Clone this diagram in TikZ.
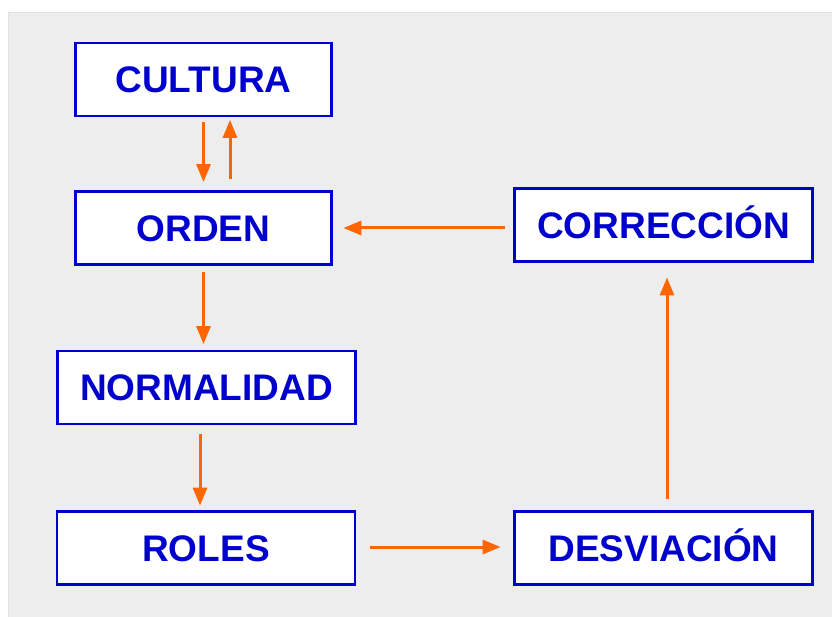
\documentclass[tikz,border=0pt]{standalone}
\usepackage{fontspec}
\setmainfont{Liberation Sans}
\usetikzlibrary{arrows.meta}
\definecolor{boxblue}{HTML}{0000CC}
\definecolor{arrorange}{HTML}{FF6600}
\definecolor{bggray}{HTML}{EDEDED}
\definecolor{bgedge}{HTML}{E2E2E2}
\tikzset{
  box/.style={draw=boxblue, line width=2.8pt, fill=white, inner sep=0pt,
    text height=26.5pt, text depth=0pt,
    text=boxblue, font=\fontsize{37}{42}\selectfont\bfseries},
  narrowbox/.style={box, minimum width=256pt, minimum height=73pt},
  widebox/.style={box, minimum width=298pt, minimum height=73pt},
  arr/.style={draw=arrorange, line width=3pt,
    -{Triangle[width=14pt,length=18pt]}}
}
\begin{document}
\begin{tikzpicture}[x=1pt,y=-1pt]
\useasboundingbox (0,0) rectangle (832,617);
\fill[bggray] (8,12) rectangle (832,617);
\draw[bgedge, line width=1pt] (8.5,617) -- (8.5,12.5) -- (832,12.5);
\node[narrowbox] (cul) at (203.5,79.5) {CULTURA};
\node[narrowbox] (ord) at (203.5,228) {ORDEN};
\node[widebox] (nor) at (206.5,387.5) {NORMALIDAD};
\node[widebox] (rol) at (206,548) {ROLES};
\node[widebox] (des) at (663.5,548) {DESVIACIÓN};
\node[widebox] (cor) at (663.5,225) {CORRECCIÓN};
% connectors
\draw[arr, shorten <=5pt, shorten >=8pt] (cul.south) -- (ord.north);
\draw[arr, shorten <=11.5pt, shorten >=2.5pt] ([xshift=26.5pt]ord.north) -- ([xshift=26.5pt]cul.south);
\draw[arr, shorten <=6.5pt, shorten >=5.5pt] (ord.south) -- (ord.south |- nor.north);
\draw[arr, shorten <=9pt, shorten >=4.5pt] ([xshift=-6.5pt]nor.south) -- ([xshift=-6.5pt]nor.south |- rol.north);
\draw[arr, shorten <=13.5pt, shorten >=12.5pt] ([yshift=1pt]rol.east) -- ([yshift=1pt]rol.east -| des.west);
\draw[arr, shorten <=11.5pt, shorten >=14.5pt] ([xshift=3.5pt]des.north) -- ([xshift=3.5pt]cor.south);
\draw[arr, shorten <=8.5pt, shorten >=10.5pt] ([yshift=-3pt]cor.west) -- ([yshift=-3pt]cor.west -| ord.east);
\end{tikzpicture}
\end{document}
